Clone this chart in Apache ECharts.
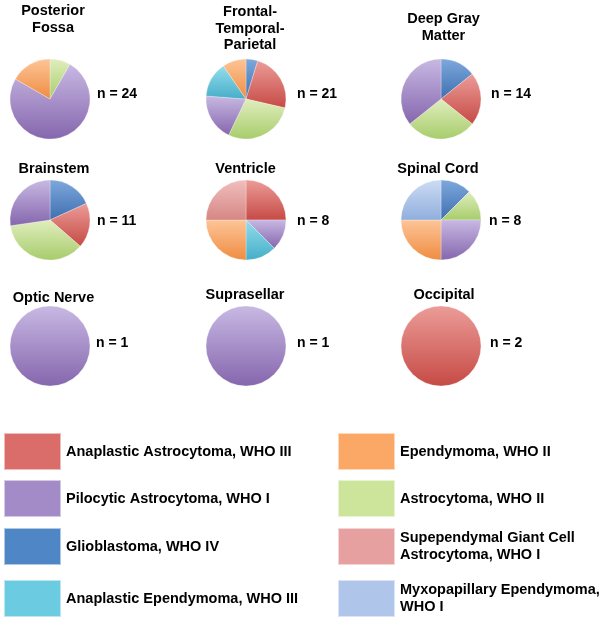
<!DOCTYPE html>
<html>
<head>
<meta charset="utf-8">
<script src="https://cdn.jsdelivr.net/npm/echarts@6/dist/echarts.min.js"></script>
<style>
  html, body { margin: 0; padding: 0; background: #fff; }
  #chart { width: 600px; height: 620px; }
</style>
</head>
<body>
<div id="chart"></div>
<script>
// ---------- DATA ----------
const categories = [
  'Anaplastic Astrocytoma, WHO III',
  'Pilocytic Astrocytoma, WHO I',
  'Glioblastoma, WHO IV',
  'Anaplastic Ependymoma, WHO III',
  'Ependymoma, WHO II',
  'Astrocytoma, WHO II',
  'Supependymal Giant Cell Astrocytoma, WHO I',
  'Myxopapillary Ependymoma, WHO I'
];

const locationTitles = [
  'Posterior\nFossa', 'Frontal-\nTemporal-\nParietal', 'Deep Gray\nMatter',
  'Brainstem', 'Ventricle', 'Spinal Cord',
  'Optic Nerve', 'Suprasellar', 'Occipital'
];

// slices listed clockwise from 12 o'clock: [category, count]
const posteriorFossa = [
  ['Astrocytoma, WHO II', 2],
  ['Pilocytic Astrocytoma, WHO I', 18],
  ['Ependymoma, WHO II', 4]
];
const frontalTemporalParietal = [
  ['Glioblastoma, WHO IV', 1],
  ['Anaplastic Astrocytoma, WHO III', 5],
  ['Astrocytoma, WHO II', 6],
  ['Pilocytic Astrocytoma, WHO I', 4],
  ['Anaplastic Ependymoma, WHO III', 3],
  ['Ependymoma, WHO II', 2]
];
const deepGrayMatter = [
  ['Glioblastoma, WHO IV', 2],
  ['Anaplastic Astrocytoma, WHO III', 3],
  ['Astrocytoma, WHO II', 4],
  ['Pilocytic Astrocytoma, WHO I', 5]
];
const brainstem = [
  ['Glioblastoma, WHO IV', 2],
  ['Anaplastic Astrocytoma, WHO III', 2],
  ['Astrocytoma, WHO II', 4],
  ['Pilocytic Astrocytoma, WHO I', 3]
];
const ventricle = [
  ['Anaplastic Astrocytoma, WHO III', 2],
  ['Pilocytic Astrocytoma, WHO I', 1],
  ['Anaplastic Ependymoma, WHO III', 1],
  ['Ependymoma, WHO II', 2],
  ['Supependymal Giant Cell Astrocytoma, WHO I', 2]
];
const spinalCord = [
  ['Glioblastoma, WHO IV', 1],
  ['Astrocytoma, WHO II', 1],
  ['Pilocytic Astrocytoma, WHO I', 2],
  ['Ependymoma, WHO II', 2],
  ['Myxopapillary Ependymoma, WHO I', 2]
];
const opticNerve = [['Pilocytic Astrocytoma, WHO I', 1]];
const suprasellar = [['Pilocytic Astrocytoma, WHO I', 1]];
const occipital = [['Anaplastic Astrocytoma, WHO III', 2]];

const locationData = [
  posteriorFossa, frontalTemporalParietal, deepGrayMatter,
  brainstem, ventricle, spinalCord,
  opticNerve, suprasellar, occipital
];

// ---------- STYLE ----------
const baseColors  = ['#DA6D69', '#A28BC7', '#4F86C6', '#6BCBE0', '#FBA867', '#CDE49B', '#E6A09F', '#AFC6EA'];
const lightColors = ['#EC9C98', '#C8B9E3', '#7EA8DD', '#95DDEC', '#FDC597', '#E0EEBE', '#F0BFBE', '#CCDCF3'];
const darkColors  = ['#C64A45', '#8566AD', '#3E6FAF', '#45AEC8', '#EF8C42', '#A7CC6B', '#D68683', '#90AEDD'];
const legendLabels = {
  'Supependymal Giant Cell Astrocytoma, WHO I': 'Supependymal Giant Cell\nAstrocytoma, WHO I',
  'Myxopapillary Ependymoma, WHO I': 'Myxopapillary Ependymoma,\nWHO I'
};

const FONT = "'Liberation Sans', Arial, Helvetica, sans-serif";
const colX = [50, 246, 441];
const rowY = [99, 220, 346];
const RADIUS = 40;

const titleCenters = [[53, 3], [250, 4], [443.5, 11], [54, 161], [245.5, 161], [438, 161], [53.5, 290], [245, 287], [444, 287]];
const nLabelPos = [[97, 86], [297, 86], [491, 86], [97, 213], [297, 213], [489, 213], [96, 335], [297, 335], [490, 335]];

function gradFor(name) {
  const i = categories.indexOf(name);
  return {
    type: 'linear', x: 0, y: 0, x2: 0, y2: 1,
    colorStops: [{ offset: 0, color: lightColors[i] }, { offset: 1, color: darkColors[i] }]
  };
}

const titles = [];
const series = [];
locationData.forEach((slices, k) => {
  const total = slices.reduce((s, d) => s + d[1], 0);
  titles.push({
    text: locationTitles[k], left: titleCenters[k][0], top: titleCenters[k][1],
    textAlign: 'center', textVerticalAlign: 'top', padding: 0,
    textStyle: { fontFamily: FONT, fontSize: 14.5, fontWeight: 'bold', color: '#000', lineHeight: 16.5 }
  });
  titles.push({
    text: 'n = ' + total, left: nLabelPos[k][0], top: nLabelPos[k][1],
    textAlign: 'left', textVerticalAlign: 'top', padding: 0,
    textStyle: { fontFamily: FONT, fontSize: 14, fontWeight: 'bold', color: '#000', lineHeight: 17 }
  });
  series.push({
    type: 'pie',
    name: locationTitles[k].replace(/\n/g, ' '),
    center: [colX[k % 3], rowY[Math.floor(k / 3)]],
    radius: RADIUS,
    startAngle: 90,
    clockwise: true,
    label: { show: false },
    labelLine: { show: false },
    emphasis: { disabled: true },
    itemStyle: { borderColor: 'rgba(255,255,255,0.55)', borderWidth: 0.5 },
    data: slices.map(([name, v]) => ({ name: name, value: v, itemStyle: { color: gradFor(name) } }))
  });
});

const legendTops = [432, 479, 527, 579];
const legends = categories.map((name, i) => ({
  orient: 'vertical',
  left: i < 4 ? 3 : 337,
  top: legendTops[i % 4],
  padding: 0,
  itemWidth: 57,
  itemHeight: 37,
  icon: 'rect',
  selectedMode: false,
  data: [{ name: name, itemStyle: { color: baseColors[i] } }],
  formatter: n => legendLabels[n] || n,
  textStyle: { fontFamily: FONT, fontSize: 14.5, fontWeight: 'bold', color: '#000', lineHeight: 17 }
}));

const chart = echarts.init(document.getElementById('chart'), null, { renderer: 'canvas' });
chart.setOption({
  backgroundColor: '#ffffff',
  animation: false,
  title: titles,
  legend: legends,
  tooltip: { show: false },
  series: series
});
</script>
</body>
</html>
